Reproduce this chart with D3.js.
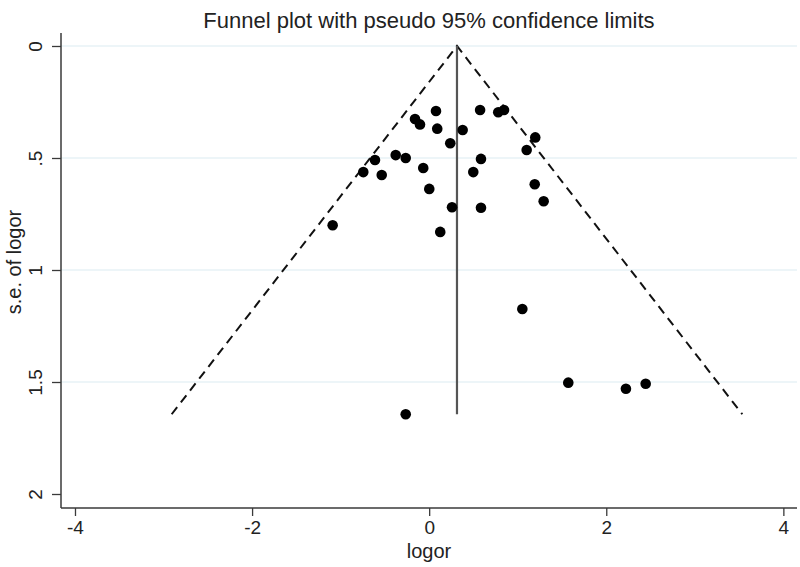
<!DOCTYPE html>
<html><head><meta charset="utf-8">
<script src="https://cdn.jsdelivr.net/npm/d3@7"></script>
<style>body{margin:0;background:#fff;} svg{display:block;}</style>
</head><body>
<svg id="chart" width="800" height="567"></svg>
<script>
const logor = [0.077,-0.160,-0.104,0.091,0.575,0.780,0.845,0.378,0.238,1.198,1.101,-0.612,-0.378,-0.265,-0.067,-0.744,-0.536,0.585,0.498,0.001,1.192,1.293,0.258,0.585,-1.090,0.125,-0.265,1.052,1.571,2.222,2.445];
const seLogor = [0.290,0.326,0.350,0.369,0.286,0.296,0.286,0.375,0.434,0.408,0.464,0.509,0.487,0.500,0.545,0.563,0.576,0.504,0.563,0.638,0.617,0.693,0.720,0.722,0.800,0.830,1.644,1.174,1.503,1.530,1.508];
const pooled = 0.314;
const maxSE = 1.644;
const xTicks = [-4,-2,0,2,4];
const xTickLabels = ["-4","-2","0","2","4"];
const yTicks = [0,0.5,1,1.5,2];
const yTickLabels = ["0",".5","1","1.5","2"];
const title = "Funnel plot with pseudo 95% confidence limits";

(function(){
const svg = d3.select("#chart");
const pl = 61, pr = 797, pt = 33, pb = 508;
const x = d3.scaleLinear().domain([-4.158, 4.154]).range([pl, pr]);
const y = d3.scaleLinear().domain([-0.058, 2.0625]).range([pt, pb]);
const font = "'Liberation Sans', Arial, sans-serif";

// gridlines
svg.append("g").selectAll("line").data(yTicks.slice(0,4)).join("line")
  .attr("x1", pl).attr("x2", pr)
  .attr("y1", d => y(d)).attr("y2", d => y(d))
  .attr("stroke", "#dcebf2").attr("stroke-width", 1.2);

// axes
const xAxis = svg.append("g").attr("transform", `translate(0,${pb})`)
  .call(d3.axisBottom(x).tickValues(xTicks).tickSize(8).tickPadding(5).tickFormat((d,i) => xTickLabels[i]));
const yAxis = svg.append("g").attr("transform", `translate(${pl},0)`)
  .call(d3.axisLeft(y).tickValues(yTicks).tickSize(9).tickFormat((d,i) => yTickLabels[i]));
[xAxis, yAxis].forEach(a => {
  a.select(".domain").attr("stroke", "#3a3a3a").attr("stroke-width", 1.5);
  a.selectAll(".tick line").attr("stroke", "#3a3a3a").attr("stroke-width", 1.3);
  a.selectAll("text").attr("font-family", font).attr("font-size", 19).attr("fill", "#222");
});
xAxis.select(".domain").attr("d", `M${pl},0H${pr}`);
yAxis.select(".domain").attr("d", `M0,${pt}V${pb}`);
yAxis.selectAll(".tick text")
  .attr("transform", "rotate(-90)")
  .attr("x", 0).attr("y", -26).attr("dy", "0.35em")
  .attr("text-anchor", "middle");

// funnel lines
const funnel = [[pooled - 1.96*maxSE, maxSE],[pooled, 0],[pooled + 1.96*maxSE, maxSE]];
svg.append("path")
  .attr("d", d3.line().x(d => x(d[0])).y(d => y(d[1]))(funnel))
  .attr("fill", "none").attr("stroke", "#111").attr("stroke-width", 2)
  .attr("stroke-dasharray", "9,6");
svg.append("line")
  .attr("x1", x(pooled)).attr("x2", x(pooled))
  .attr("y1", y(0)).attr("y2", y(maxSE))
  .attr("stroke", "#555").attr("stroke-width", 2.2);

// points
svg.append("g").selectAll("circle").data(logor).join("circle")
  .attr("cx", d => x(d)).attr("cy", (d,i) => y(seLogor[i]))
  .attr("r", 5.3).attr("fill", "#000");

// titles
svg.append("text").attr("x", 429).attr("y", 28).attr("text-anchor", "middle")
  .attr("font-family", font).attr("font-size", 22).attr("fill", "#222").text(title);
svg.append("text").attr("x", 429).attr("y", 558).attr("text-anchor", "middle")
  .attr("font-family", font).attr("font-size", 20).attr("fill", "#222").text("logor");
svg.append("text").attr("transform", "translate(21,262) rotate(-90)").attr("text-anchor", "middle")
  .attr("font-family", font).attr("font-size", 20).attr("fill", "#222").text("s.e. of logor");
})();
</script>
</body></html>
